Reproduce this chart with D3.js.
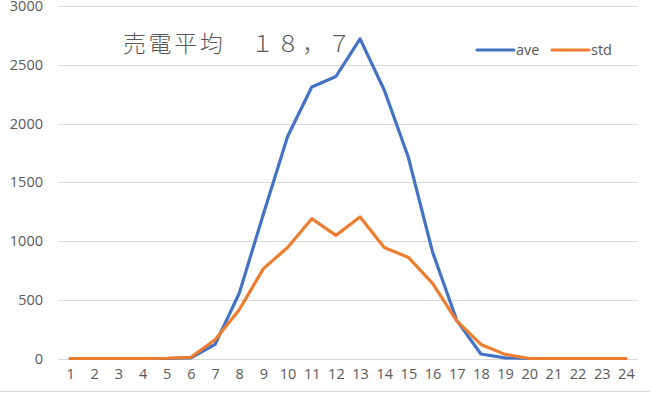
<!DOCTYPE html>
<html><head><meta charset="utf-8">
<script src="https://cdn.jsdelivr.net/npm/d3@7"></script>
<style>body{margin:0;background:#fff}svg{display:block}</style>
</head><body>
<svg id="c" width="656" height="393"></svg>
<script>
const categories = ["1","2","3","4","5","6","7","8","9","10","11","12","13","14","15","16","17","18","19","20","21","22","23","24"];
const aveValues = [0,0,0,0,0,5,120,555,1230,1890,2310,2400,2720,2285,1710,905,325,38,5,0,0,0,0,0];
const stdValues = [0,0,0,0,2,10,160,415,765,945,1190,1048,1204,945,860,640,320,120,35,0,0,0,0,0];
const yTicks = [0,500,1000,1500,2000,2500,3000];
const seriesNames = ["ave","std"];
const seriesColors = ["#4472C4","#ED7D31"];
const titleText = "売電平均　１８，７";

(function(){
const svg = d3.select("#c");
const pLeft = 58, pRight = 638, pTop = 6, pBottom = 358.5;
const font = "'Open Sans', 'Liberation Sans', sans-serif";
const x = d3.scalePoint().domain(categories).range([pLeft, pRight]).padding(0.5);
const y = d3.scaleLinear().domain([0,3000]).range([pBottom, pTop]);

svg.append("line").attr("x1",0).attr("x2",650).attr("y1",391.5).attr("y2",391.5)
  .attr("stroke","#d9d9d9").attr("stroke-width",1);

svg.append("g").selectAll("line").data(yTicks).join("line")
  .attr("x1",pLeft).attr("x2",pRight)
  .attr("y1",d=>Math.round(y(d))+0.5).attr("y2",d=>Math.round(y(d))+0.5)
  .attr("stroke","#d9d9d9").attr("stroke-width",1);

const yAxis = d3.axisLeft(y).tickValues(yTicks).tickFormat(d3.format("d")).tickSize(0).tickPadding(0);
const gy = svg.append("g").attr("transform",`translate(43,0)`).call(yAxis);
gy.select(".domain").remove();
gy.selectAll("text").attr("fill","#595959").attr("font-family",font).attr("font-size","14.5px");

const xAxis = d3.axisBottom(x).tickSize(0).tickPadding(0);
const gx = svg.append("g").attr("transform",`translate(0,369)`).call(xAxis);
gx.select(".domain").remove();
gx.selectAll("text").attr("fill","#595959").attr("font-family",font).attr("font-size","14.5px");

const line = d3.line().x((d,i)=>x(categories[i])).y(d=>y(d));
[aveValues, stdValues].forEach((vals,k)=>{
  svg.append("path").datum(vals).attr("d",line).attr("fill","none")
    .attr("stroke",seriesColors[k]).attr("stroke-width",3.2)
    .attr("stroke-linejoin","round").attr("stroke-linecap","round");
});

svg.append("text").attr("x",123).attr("y",52).text(titleText)
  .attr("fill","#595959").attr("font-family","'Noto Sans CJK JP', sans-serif")
  .attr("font-size","23px").attr("font-weight",300).attr("letter-spacing","2.6px");

const legX = [477, 552];
seriesNames.forEach((n,k)=>{
  const g = svg.append("g");
  g.append("line").attr("x1",legX[k]).attr("x2",legX[k]+37).attr("y1",50).attr("y2",50)
    .attr("stroke",seriesColors[k]).attr("stroke-width",3.2).attr("stroke-linecap","round");
  g.append("text").attr("x",legX[k]+39).attr("y",55).text(n)
    .attr("fill","#595959").attr("font-family",font).attr("font-size","14.5px");
});
})();
</script>
</body></html>
